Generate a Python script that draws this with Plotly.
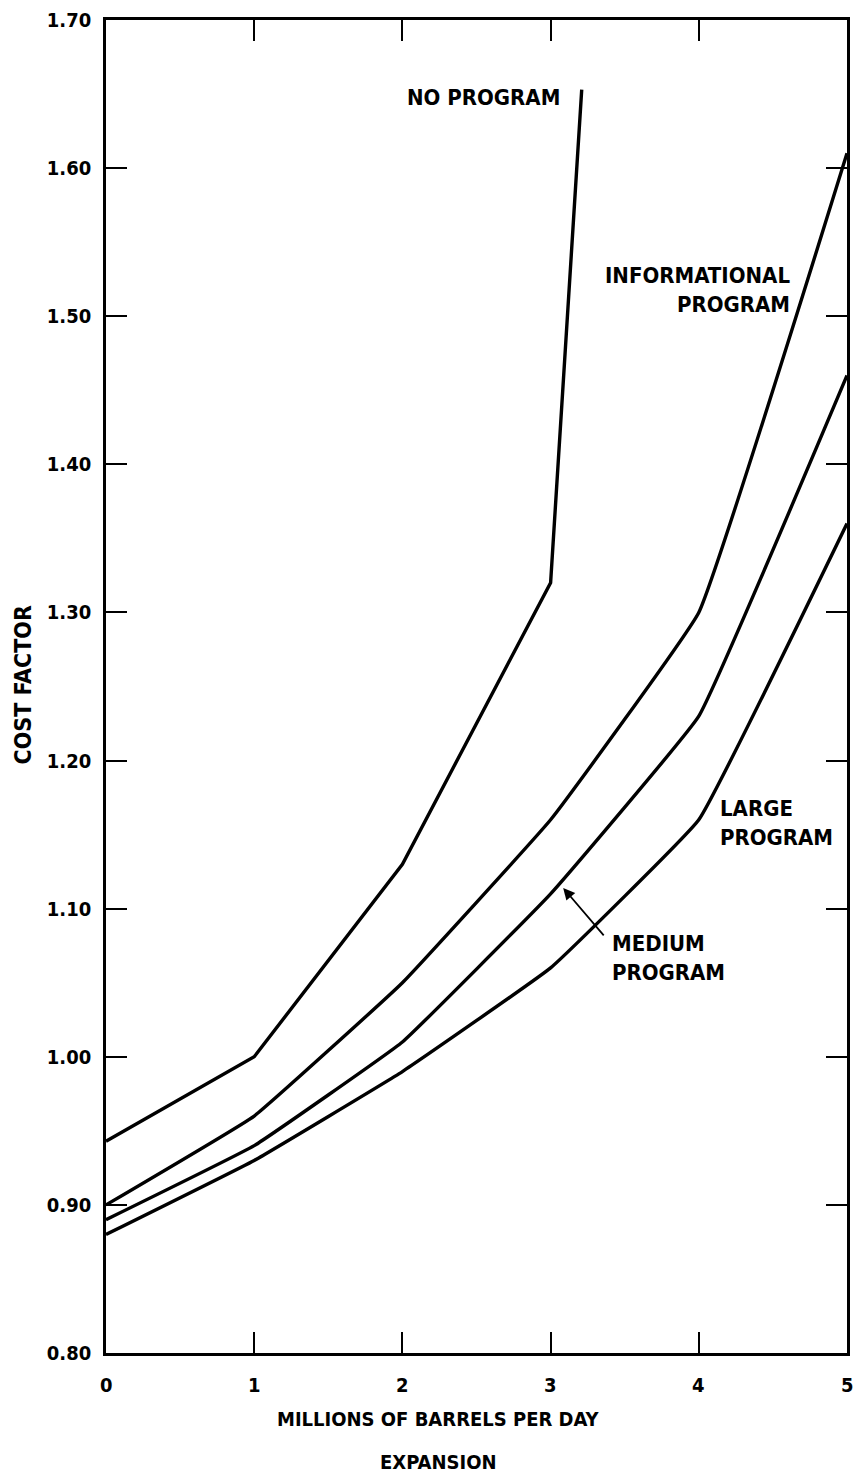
import plotly.graph_objects as go

# Cost factor versus capacity expansion for four program levels
expansion = [0, 1, 2, 3, 4, 5]
no_program_x = [0, 1, 2, 3, 3.21]
no_program = [0.943, 1.00, 1.13, 1.32, 1.653]
informational = [0.90, 0.96, 1.05, 1.16, 1.30, 1.61]
medium = [0.89, 0.94, 1.01, 1.11, 1.23, 1.46]
large = [0.88, 0.93, 0.99, 1.06, 1.16, 1.36]

y_ticks = [0.80, 0.90, 1.00, 1.10, 1.20, 1.30, 1.40, 1.50, 1.60, 1.70]
x_ticks = [0, 1, 2, 3, 4, 5]

FONT = "Liberation Sans Narrow, DejaVu Sans Condensed, Arial Narrow, sans-serif"
LINE = dict(color="black", width=3.4)

fig = go.Figure()
fig.add_trace(go.Scatter(x=no_program_x, y=no_program, mode="lines", line=LINE))
for series in (informational, medium, large):
    fig.add_trace(go.Scatter(x=expansion, y=series, mode="lines",
                             line=dict(LINE, shape="spline", smoothing=0.25)))

def label(text, x, y, align="center", xanchor="center"):
    fig.add_annotation(x=x, y=y, xref="x", yref="y", text=f"<b>{text}</b>",
                       showarrow=False, align=align, xanchor=xanchor, yanchor="middle",
                       font=dict(family=FONT, size=22, color="black"))

label("NO PROGRAM", 2.55, 1.648)
label("INFORMATIONAL<br>PROGRAM", 4.63, 1.518, align="right", xanchor="right")
label("LARGE<br>PROGRAM", 4.13, 1.158, align="left", xanchor="left")
label("MEDIUM<br>PROGRAM", 3.40, 1.067, align="left", xanchor="left")

# pointer from the MEDIUM label to its curve
fig.add_annotation(x=3.085, y=1.114, ax=3.367, ay=1.081, xref="x", yref="y",
                   axref="x", ayref="y", text="", showarrow=True,
                   arrowhead=2, arrowsize=1.3, arrowwidth=1.8, arrowcolor="black")

# x tick labels drawn as annotations so the last one may run off the edge
for v in x_ticks:
    fig.add_annotation(x=v, y=0, xref="x", yref="paper", text=f"<b>{v}</b>",
                       showarrow=False, xanchor="center", yanchor="middle", yshift=-32,
                       font=dict(family=FONT, size=20, color="black"))

# axis titles
fig.add_annotation(x=-0.1116, y=0.501, xref="paper", yref="paper", text="<b>COST FACTOR</b>",
                   textangle=-90, showarrow=False, xanchor="center", yanchor="middle",
                   font=dict(family=FONT, size=23, color="black"))
fig.add_annotation(x=0.449, y=-0.0495, xref="paper", yref="paper",
                   text="<b>MILLIONS OF BARRELS PER DAY</b>", showarrow=False,
                   xanchor="center", yanchor="middle",
                   font=dict(family=FONT, size=20, color="black"))
fig.add_annotation(x=0.449, y=-0.0818, xref="paper", yref="paper",
                   text="<b>EXPANSION</b>", showarrow=False,
                   xanchor="center", yanchor="middle",
                   font=dict(family=FONT, size=20, color="black"))

axis_common = dict(showgrid=False, zeroline=False, showline=True, linecolor="black",
                   linewidth=2.5, mirror="ticks", ticks="inside", ticklen=21,
                   tickwidth=2, tickcolor="black",
                   tickfont=dict(family=FONT, size=20, color="black"))

fig.update_xaxes(range=[0, 5], tickvals=x_ticks, showticklabels=False, **axis_common)
fig.update_yaxes(range=[0.80, 1.70], tickvals=y_ticks, ticklabelstandoff=8,
                 ticktext=[f"<b>{v:.2f}</b>" for v in y_ticks], **axis_common)

fig.update_layout(width=853, height=1477, showlegend=False,
                  plot_bgcolor="white", paper_bgcolor="white",
                  margin=dict(l=106, r=3, t=20, b=124))

fig.write_html("out.html")
